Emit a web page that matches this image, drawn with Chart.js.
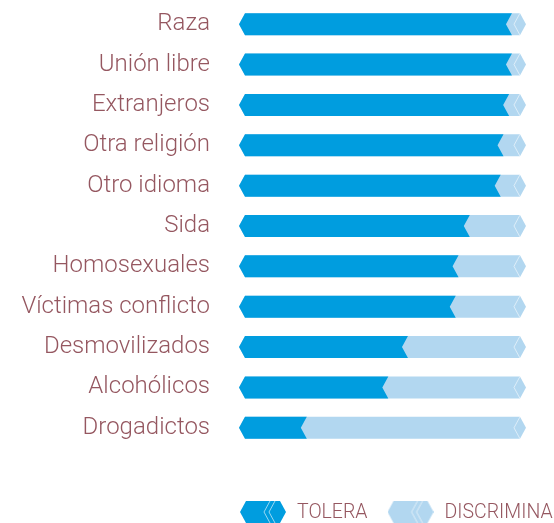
<!DOCTYPE html>
<html>
<head>
<meta charset="utf-8">
<script src="https://cdn.jsdelivr.net/npm/chart.js@4.4.0/dist/chart.umd.min.js"></script>
<style>
  html, body { margin: 0; padding: 0; background: #fff; }
</style>
</head>
<body>
<canvas id="chart" width="554" height="523"></canvas>
<script>
const categories = ['Raza', 'Unión libre', 'Extranjeros', 'Otra religión', 'Otro idioma', 'Sida',
  'Homosexuales', 'Víctimas conflicto', 'Desmovilizados', 'Alcohólicos', 'Drogadictos'];
const tolera     = [95, 95, 94, 92, 91, 80, 76, 75, 58, 51, 22];
const discrimina = [5, 5, 6, 8, 9, 20, 24, 25, 42, 49, 78];
const seriesNames = ['TOLERA', 'DISCRIMINA'];

const DARK = '#009ddf', LIGHT = '#b2d7f0', TEXT = '#955760';
const NOTCH = 3; // half depth of the arrow tips

// arrow shaped segment; left edge "<", right edge either ">" (end) or "<" (joint)
function arrowPath(ctx, s, e, y, h, endTip) {
  const t = y - h / 2, b = y + h / 2, d = NOTCH;
  ctx.beginPath();
  ctx.moveTo(s - d, y);
  ctx.lineTo(s + d, t);
  if (endTip) { ctx.lineTo(e - d, t); ctx.lineTo(e + d, y); ctx.lineTo(e - d, b); }
  else { ctx.lineTo(e + d, t); ctx.lineTo(e - d, y); ctx.lineTo(e + d, b); }
  ctx.lineTo(s + d, b);
  ctx.closePath();
}

function chevronLine(ctx, x, y, h) {
  ctx.beginPath();
  ctx.moveTo(x, y - h / 2);
  ctx.lineTo(x - 2 * NOTCH, y);
  ctx.lineTo(x, y + h / 2);
  ctx.stroke();
}

const arrowBars = {
  id: 'arrowBars',
  beforeDatasetsDraw(chart) {
    const ctx = chart.ctx;
    const dark = chart.getDatasetMeta(0).data, light = chart.getDatasetMeta(1).data;
    ctx.save();
    dark.forEach((d, i) => {
      const l = light[i];
      const h = d.height;
      ctx.fillStyle = LIGHT;
      arrowPath(ctx, d.base, l.x, d.y, h, true);
      ctx.fill();
      ctx.strokeStyle = 'rgba(255,255,255,0.55)';
      ctx.lineWidth = 1;
      chevronLine(ctx, l.x - NOTCH, d.y, h);
      ctx.fillStyle = DARK;
      arrowPath(ctx, d.base, d.x, d.y, h, false);
      ctx.fill();
    });
    ctx.restore();
    return false;
  }
};

function legendIcon(color) {
  const c = document.createElement('canvas');
  c.width = 46; c.height = 22;
  const g = c.getContext('2d');
  g.fillStyle = color;
  g.beginPath();
  g.moveTo(0, 11); g.lineTo(6, 0); g.lineTo(40, 0); g.lineTo(46, 11); g.lineTo(40, 22); g.lineTo(6, 22);
  g.closePath(); g.fill();
  g.strokeStyle = 'rgba(255,255,255,0.6)';
  g.lineWidth = 1;
  [30, 35].forEach(x => { g.beginPath(); g.moveTo(x, 0); g.lineTo(x - 6, 11); g.lineTo(x, 22); g.stroke(); });
  return c;
}

const arrowLegend = {
  id: 'arrowLegend',
  afterDraw(chart) {
    const ctx = chart.ctx;
    const icons = [legendIcon(DARK), legendIcon(LIGHT)];
    let x = chart.chartArea.left - 2;
    const y = chart.chartArea.bottom + 64;
    ctx.save();
    ctx.font = '300 19.5px Roboto';
    ctx.fillStyle = TEXT;
    ctx.textBaseline = 'middle';
    chart.data.datasets.forEach((ds, i) => {
      ctx.drawImage(icons[i], x, y - 11);
      x += 46 + 11;
      ctx.fillText(ds.label, x, y + 1);
      x += ctx.measureText(ds.label).width + 20;
    });
    ctx.restore();
  }
};

new Chart(document.getElementById('chart'), {
  type: 'bar',
  data: {
    labels: categories,
    datasets: [
      { label: seriesNames[0], data: tolera, backgroundColor: DARK },
      { label: seriesNames[1], data: discrimina, backgroundColor: LIGHT }
    ]
  },
  options: {
    indexAxis: 'y',
    responsive: false,
    animation: false,
    devicePixelRatio: 1,
    barThickness: 22,
    layout: { padding: { top: 4, right: 31, bottom: 75, left: 0 } },
    plugins: { legend: { display: false }, tooltip: { enabled: false } },
    scales: {
      x: { stacked: true, min: 0, max: 100, display: false },
      y: {
        stacked: true,
        grid: { display: false, drawTicks: false },
        border: { display: false },
        ticks: { color: TEXT, font: { family: 'Roboto', weight: '300', size: 24 }, padding: 32 },
        afterFit: s => { s.width = 242; s.paddingTop = 0; s.paddingBottom = 0; }
      }
    }
  },
  plugins: [arrowBars, arrowLegend]
});
</script>
</body>
</html>
